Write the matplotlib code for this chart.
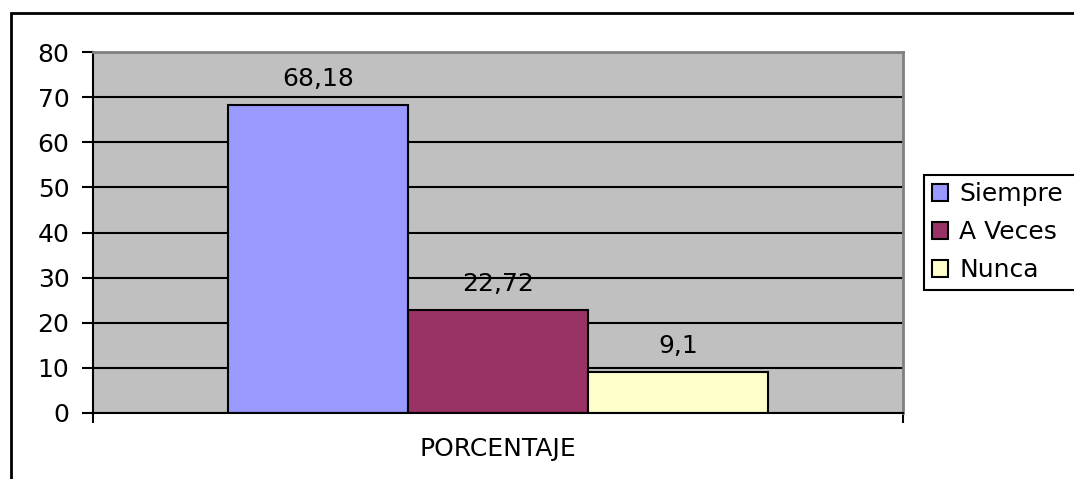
import matplotlib.pyplot as plt
from matplotlib.patches import Rectangle

# data
categorias = ['Siempre', 'A Veces', 'Nunca']
porcentajes = [68.18, 22.72, 9.1]
etiquetas = ['68,18', '22,72', '9,1']
colores = ['#9999FF', '#993366', '#FFFFCC']

plt.rcParams['font.family'] = ['DejaVu Sans']
plt.rcParams['font.size'] = 18

fig = plt.figure(figsize=(10.74, 4.79), dpi=100)
ax = fig.add_axes([93 / 1074, 1 - 413 / 479, 810 / 1074, 361 / 479])

# outer frame of the chart (runs off the right and bottom edges)
fig.patches.append(Rectangle((11 / 1074, -0.05), 1.2, 1 - 13 / 479 + 0.05,
                             transform=fig.transFigure, fill=False,
                             edgecolor='black', linewidth=2))

ax.set_facecolor('#C0C0C0')
ax.set_axisbelow(True)
ax.yaxis.grid(True, color='black', linewidth=1.5)

posiciones = [-1, 0, 1]
barras = ax.bar(posiciones, porcentajes, width=1, color=colores,
                edgecolor='black', linewidth=1.5)

for b, txt in zip(barras, etiquetas):
    ax.annotate(txt, (b.get_x() + b.get_width() / 2, b.get_height()),
                xytext=(0, 19), textcoords='offset points',
                ha='center', va='center', fontsize=18)

ax.set_ylim(0, 80)
ax.set_yticks(range(0, 81, 10))
ax.set_xlim(-2.25, 2.25)
ax.set_xticks([-2.25, 2.25])
ax.set_xticklabels(['', ''])
ax.tick_params(axis='y', length=8, width=1.5, pad=9, direction='out')
ax.tick_params(axis='x', length=7, width=1.5, direction='out')
ax.set_xlabel('PORCENTAJE', labelpad=7, fontsize=18)

for s in ['left', 'bottom']:
    ax.spines[s].set_color('black')
    ax.spines[s].set_linewidth(1.5)
for s in ['top', 'right']:
    ax.spines[s].set_color('#808080')
    ax.spines[s].set_linewidth(2)

# legend box runs off the right edge, like in the original
handles = [Rectangle((0, 0), 1, 1, facecolor=c, edgecolor='black', linewidth=1.5)
           for c in colores]
leg = fig.legend(handles, categorias, loc='upper left', mode='expand',
                 bbox_to_anchor=(924 / 1074, 0, 0.2, 1 - 175 / 479),
                 fancybox=False, framealpha=1, edgecolor='black',
                 handlelength=0.65, handleheight=0.65, handletextpad=0.45,
                 labelspacing=0.55, borderpad=0.3, borderaxespad=0,
                 fontsize=18)
leg.get_frame().set_linewidth(1.5)

fig.savefig('out.png', dpi=100)
